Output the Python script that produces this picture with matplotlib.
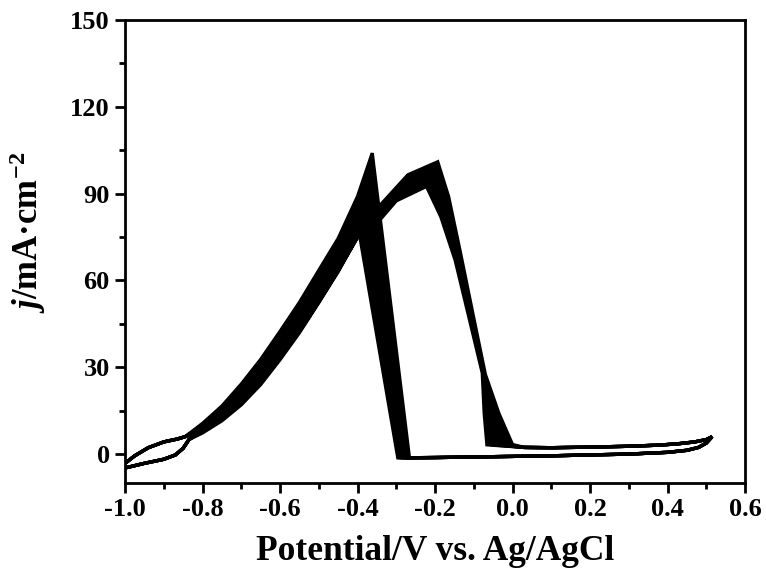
import matplotlib
matplotlib.use("Agg")
import matplotlib.pyplot as plt
from matplotlib.ticker import MultipleLocator

# CV data, several cycles (E in V vs Ag/AgCl, j in mA/cm2)
loop_up_E = [-1.0, -0.975, -0.94, -0.90, -0.865, -0.845]
loop_up_j = [-3.2, -0.6, 2.2, 4.2, 5.2, 6.0]

rise_E = [-0.80, -0.75, -0.70, -0.65, -0.60, -0.55, -0.50, -0.45]
fwd_rise_j = [
    [10.6, 16.6, 24.2, 32.7, 42.4, 52.4, 63.5, 74.5],
    [9.9, 15.5, 22.6, 30.6, 39.9, 49.6, 60.4, 71.6],
    [9.2, 14.4, 21.0, 28.7, 37.7, 47.3, 57.9, 68.9],
    [8.8, 13.6, 20.0, 27.3, 36.3, 45.7, 56.1, 67.1],
    [8.3, 12.9, 18.9, 26.0, 34.8, 44.1, 54.4, 65.2],
    [7.9, 12.2, 17.9, 24.7, 33.3, 42.5, 52.6, 63.4],
]

fwd_peak_E = [
    [-0.40, -0.362, -0.266],
    [-0.370, -0.272],
    [-0.377, -0.278],
    [-0.383, -0.284],
    [-0.389, -0.290],
    [-0.395, -0.296],
]
fwd_peak_j = [
    [89, 104, -1.3],
    [98, -1.3],
    [92, -1.3],
    [86, -1.3],
    [81, -1.3],
    [76, -1.3],
]

flat_fwd_E = [-0.20, -0.10, 0.0, 0.10, 0.20, 0.30, 0.40, 0.45, 0.48, 0.50, 0.515]
flat_fwd_j = [-1.2, -1.0, -0.8, -0.6, -0.3, 0.0, 0.6, 1.3, 2.3, 3.8, 6.0]

flat_rev_E = [0.515, 0.50, 0.47, 0.43, 0.38, 0.30, 0.20, 0.10, 0.03]
flat_rev_j = [6.0, 5.0, 4.2, 3.6, 3.1, 2.7, 2.4, 2.2, 2.3]

rev_peak_E = [
    [0.0, -0.035, -0.070, -0.100, -0.135, -0.165, -0.193, -0.270, -0.345, -0.40],
    [-0.013, -0.043, -0.072, -0.102, -0.138, -0.169, -0.199, -0.276, -0.345, -0.40],
    [-0.026, -0.050, -0.073, -0.105, -0.140, -0.173, -0.205, -0.282, -0.345, -0.40],
    [-0.040, -0.058, -0.075, -0.107, -0.143, -0.177, -0.210, -0.288, -0.345, -0.40],
    [-0.053, -0.065, -0.076, -0.110, -0.145, -0.181, -0.216, -0.294, -0.345, -0.40],
    [-0.066, -0.073, -0.078, -0.112, -0.148, -0.185, -0.222, -0.300, -0.345, -0.40],
]
rev_peak_j = [
    [3.3, 14, 27.5, 47, 70.0, 89.0, 101.0, 96.5, 85.5, 80.0],
    [3.3, 14, 27.6, 47, 69.4, 87.6, 99.3, 94.7, 84.6, 79.1],
    [3.2, 14, 27.7, 47, 68.8, 86.2, 97.6, 92.9, 83.7, 78.2],
    [3.2, 14, 27.8, 47, 68.2, 84.8, 95.9, 91.1, 82.8, 77.3],
    [3.2, 14, 27.9, 47, 67.6, 83.4, 94.2, 89.3, 81.9, 76.4],
    [3.2, 14, 28.0, 47, 67.0, 82.0, 92.5, 87.5, 80.5, 75.0],
]

rev_fall_j = [
    [68.5, 57.5, 47.0, 37.4, 28.4, 20.8, 14.2, 9.0],
    [67.7, 56.8, 46.4, 36.8, 27.9, 20.4, 13.9, 8.8],
    [66.9, 56.1, 45.7, 36.2, 27.4, 19.9, 13.6, 8.5],
    [66.1, 55.4, 45.1, 35.7, 26.8, 19.5, 13.2, 8.3],
    [64.8, 53.9, 43.6, 34.3, 25.6, 18.5, 12.6, 7.8],
    [63.0, 52.3, 41.9, 32.6, 24.0, 17.0, 11.5, 7.3],
]

loop_low_E = [-0.835, -0.85, -0.87, -0.90, -0.95, -1.0]
loop_low_j = [5.0, 2.0, -0.3, -1.8, -3.2, -4.8]

x_ticks = [-1.0, -0.8, -0.6, -0.4, -0.2, 0.0, 0.2, 0.4, 0.6]
y_ticks = [0, 30, 60, 90, 120, 150]

plt.rcParams['font.family'] = 'Liberation Serif'
plt.rcParams['font.weight'] = 'bold'
plt.rcParams['axes.unicode_minus'] = False
plt.rcParams['mathtext.fontset'] = 'custom'
plt.rcParams['mathtext.rm'] = 'Liberation Serif:bold'
plt.rcParams['mathtext.it'] = 'Liberation Serif:italic:bold'
plt.rcParams['mathtext.bf'] = 'Liberation Serif:bold'

fig = plt.figure(figsize=(7.66, 5.77), dpi=100)
ax = fig.add_axes([0.1632, 0.1629, 0.8094, 0.8024])

n = len(fwd_rise_j)
for k in range(n):
    E = (loop_up_E + rise_E + fwd_peak_E[k] + flat_fwd_E + flat_rev_E
         + rev_peak_E[k] + rise_E[::-1] + loop_low_E)
    j = (loop_up_j + fwd_rise_j[k] + fwd_peak_j[k] + flat_fwd_j + flat_rev_j
         + rev_peak_j[k] + rev_fall_j[k] + loop_low_j)
    ax.plot(E, j, color='black', lw=2.4, solid_joinstyle='miter')

# the many overlapping cycles merge into solid bands: fill between first and last cycle
fa_E = rise_E + fwd_peak_E[0]
fa_j = fwd_rise_j[0] + fwd_peak_j[0]
fb_E = rise_E + fwd_peak_E[-1]
fb_j = fwd_rise_j[-1] + fwd_peak_j[-1]
ax.fill(fa_E + fb_E[::-1], fa_j + fb_j[::-1], color='black', lw=0)

ra_E = rev_peak_E[0] + rise_E[::-1]
ra_j = rev_peak_j[0] + rev_fall_j[0]
rb_E = rev_peak_E[-1] + rise_E[::-1]
rb_j = rev_peak_j[-1] + rev_fall_j[-1]
ax.fill(ra_E + rb_E[::-1], ra_j + rb_j[::-1], color='black', lw=0)

ax.set_xlim(-1.0, 0.6)
ax.set_ylim(-10, 150)
ax.set_xticks(x_ticks)
ax.set_xticklabels([f"{v:.1f}" for v in x_ticks])
ax.set_yticks(y_ticks)
ax.xaxis.set_minor_locator(MultipleLocator(0.1))
ax.yaxis.set_minor_locator(MultipleLocator(15))
ax.tick_params(which='major', direction='out', length=7, width=2, labelsize=19, pad=4)
ax.tick_params(which='minor', direction='out', length=4.5, width=2)
ax.tick_params(top=False, right=False, which='both')
for s in ax.spines.values():
    s.set_linewidth(2)

ax.set_xlabel('Potential/V vs. Ag/AgCl', fontsize=25.5, fontweight='bold', labelpad=10)
ax.set_ylabel(r'$j$/mA·cm$^{-2}$', fontsize=25, fontweight='bold')
ax.yaxis.set_label_coords(-0.124, 0.542)

fig.savefig('out.png', dpi=100)
